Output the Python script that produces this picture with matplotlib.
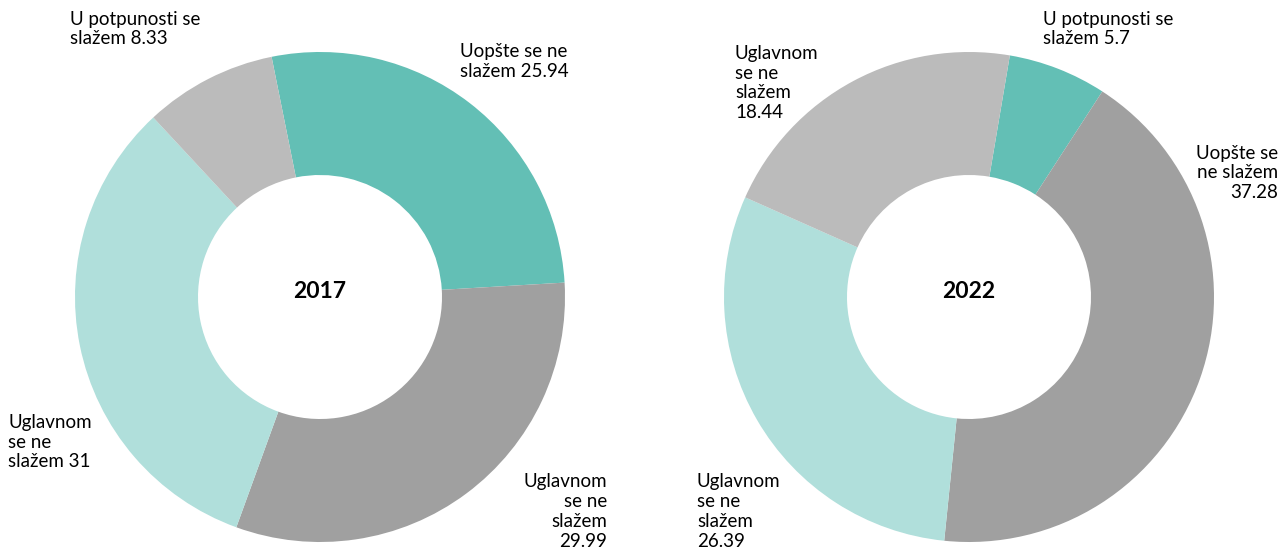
import matplotlib.pyplot as plt

# podaci
vals_2017 = [25.94, 29.99, 31, 8.33]
labels_2017 = ["Uopšte se ne\nslažem 25.94", "Uglavnom\nse ne\nslažem\n29.99",
               "Uglavnom\nse ne\nslažem 31", "U potpunosti se\nslažem 8.33"]
vals_2022 = [5.7, 37.28, 26.39, 18.44]
labels_2022 = ["U potpunosti se\nslažem 5.7", "Uopšte se\nne slažem\n37.28",
               "Uglavnom\nse ne\nslažem\n26.39", "Uglavnom\nse ne\nslažem\n18.44"]
colors = ["#63bfb5", "#a0a0a0", "#b0dfdb", "#bbbbbb"]

plt.rcParams['font.family'] = ['Lato', 'DejaVu Sans']

fig = plt.figure(figsize=(12.8, 5.5), dpi=100)
ax = fig.add_axes([0, 0, 1, 1])

# y os je obrnuta pa counterclock=True ide u smjeru kazaljke
ax.pie(vals_2017, colors=colors, center=(320, 297), radius=245,
       startangle=-101.4, counterclock=True, frame=True,
       wedgeprops=dict(width=123, linewidth=0))
ax.pie(vals_2022, colors=colors, center=(969, 297), radius=245,
       startangle=-80.4, counterclock=True, frame=True,
       wedgeprops=dict(width=123, linewidth=0))
ax.set_xlim(0, 1280)
ax.set_ylim(550, 0)
ax.set_aspect('equal')
ax.axis('off')

fs = 13.5
# oznake 2017
ax.text(460, 61.5, labels_2017[0], fontsize=fs, ha='left', va='center')
ax.text(607, 511.5, labels_2017[1], fontsize=fs, ha='right', va='center', multialignment='right')
ax.text(8, 442, labels_2017[2], fontsize=fs, ha='left', va='center')
ax.text(70, 29, labels_2017[3], fontsize=fs, ha='left', va='center')
# oznake 2022
ax.text(1043, 29, labels_2022[0], fontsize=fs, ha='left', va='center')
ax.text(1278, 173, labels_2022[1], fontsize=fs, ha='right', va='center', multialignment='right')
ax.text(697, 511.5, labels_2022[2], fontsize=fs, ha='left', va='center')
ax.text(735, 83, labels_2022[3], fontsize=fs, ha='left', va='center')

ax.text(320, 292, "2017", fontsize=16.5, fontweight='bold', ha='center', va='center')
ax.text(969, 292, "2022", fontsize=16.5, fontweight='bold', ha='center', va='center')

fig.savefig("out.png", dpi=100)
